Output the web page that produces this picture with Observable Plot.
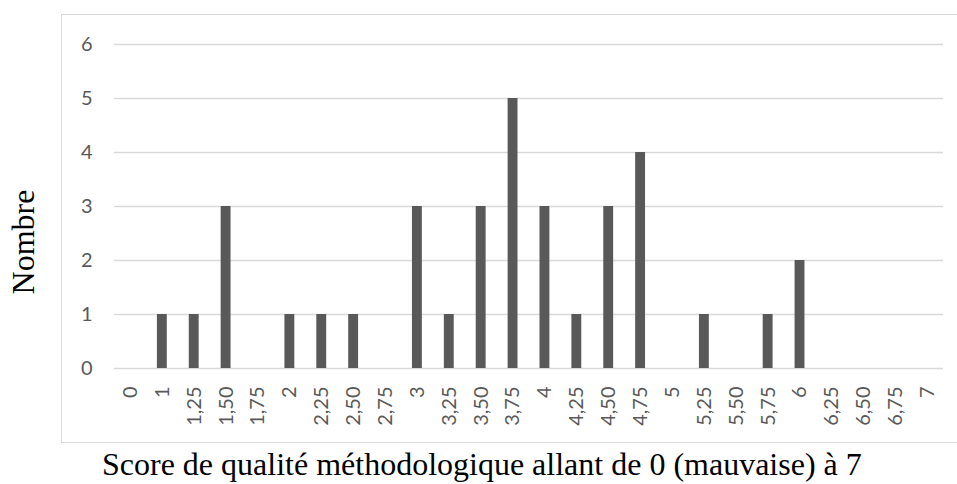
<!DOCTYPE html>
<html><head><meta charset="utf-8">
<script src="https://cdn.jsdelivr.net/npm/d3@7"></script>
<script src="https://cdn.jsdelivr.net/npm/@observablehq/plot@0.6"></script>
<style>
body{margin:0;background:#fff;}
#wrap{position:relative;width:957px;height:484px;overflow:hidden;}
#frame{position:absolute;left:61px;top:14px;width:1000px;height:429px;border:1.5px solid #d9d9d9;box-sizing:border-box;}
#chart{position:absolute;left:0;top:0;}
#ytitle{position:absolute;left:23px;top:242px;transform:translate(-50%,-50%) rotate(-90deg);font-family:"Liberation Serif","Times New Roman",serif;font-size:32px;line-height:1;color:#000;white-space:nowrap;}
#xtitle{position:absolute;left:102px;top:448px;font-family:"Liberation Serif","Times New Roman",serif;font-size:32px;line-height:1;color:#000;white-space:nowrap;}
</style>
</head><body>
<div id="wrap">
<div id="frame"></div>
<div id="chart"></div>
<div id="ytitle">Nombre</div>
<div id="xtitle">Score de qualité méthodologique allant de 0 (mauvaise) à 7</div>
</div>
<script>
const categories = ["0","1","1,25","1,50","1,75","2","2,25","2,50","2,75","3","3,25","3,50","3,75","4","4,25","4,50","4,75","5","5,25","5,50","5,75","6","6,25","6,50","6,75","7"];
const counts = [0,1,1,3,0,1,1,1,0,3,1,3,5,3,1,3,4,0,1,0,1,2,0,0,0,0];
const yTicks = [0,1,2,3,4,5,6];

const data = categories.map((c, i) => ({score: c, n: counts[i]}));

const chart = Plot.plot({
  width: 957,
  height: 484,
  marginLeft: 114,
  marginRight: 14,
  marginTop: 44,
  marginBottom: 116,
  style: {background: "transparent", fontFamily: "Lato, 'Open Sans', sans-serif", fontSize: "20px", color: "#595959"},
  x: {type: "band", domain: categories, padding: 0, round: false, label: null},
  y: {domain: [0, 6], label: null},
  marks: [
    Plot.ruleY(yTicks, {stroke: "#d9d9d9", strokeWidth: 1.3}),
    Plot.barY(data, {x: "score", y: "n", fill: "#595959", insetLeft: 11, insetRight: 11}),
    Plot.axisY({ticks: yTicks, tickFormat: "d", tickSize: 0, tickPadding: 22, label: null, fill: "#595959"}),
    Plot.axisX({tickRotate: -90, tickSize: 0, tickPadding: 18, label: null, fill: "#595959"})
  ]
});
document.getElementById("chart").appendChild(chart);
</script>
</body></html>
